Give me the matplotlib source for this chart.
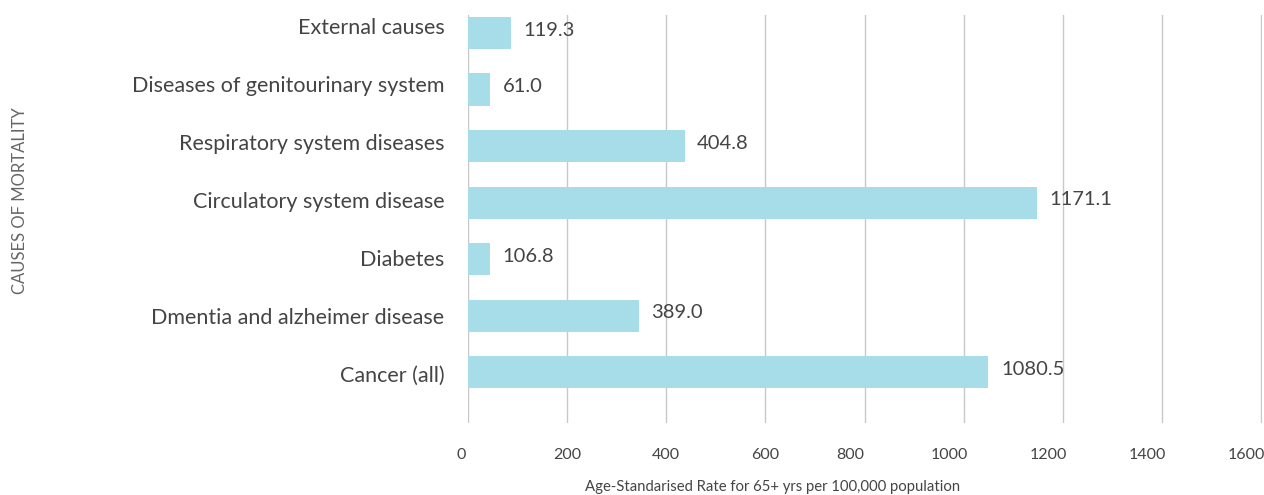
import numpy as np
import matplotlib.pyplot as plt
from matplotlib.transforms import ScaledTranslation

plt.rcParams['font.family'] = ['Lato', 'DejaVu Sans']

# Causes (bottom to top as drawn)
causes = ['Cancer (all)', 'Dmentia and alzheimer disease', 'Diabetes',
          'Circulatory system disease', 'Respiratory system diseases',
          'Diseases of genitourinary system', 'External causes']
# bar lengths as drawn in the picture
bar_values = [1050, 345, 45, 1148, 437, 45, 87]
# printed data labels
label_values = [1080.5, 389.0, 106.8, 1171.1, 404.8, 61.0, 119.3]

bar_color = '#a6dde9'
text_color = '#444444'

fig = plt.figure(figsize=(12.64, 4.95), dpi=100)
ax = fig.add_axes([468 / 1264, 1 - 423 / 495, 794 / 1264, 408 / 495])

y = np.arange(len(causes))
ax.barh(y, bar_values, height=0.57, color=bar_color, zorder=2)

for yi, v, lab in zip(y, bar_values, label_values):
    ax.annotate(f'{lab:.1f}', (v, yi), xytext=(9, 2), textcoords='offset points',
                va='center', ha='left', fontsize=14.5, color=text_color, zorder=3)

ax.set_xlim(0, 1602)
ax.set_ylim(-0.9, 6.32)
ax.set_xticks(np.arange(0, 1601, 200))
ax.set_yticks(y)
ax.set_yticklabels(causes, fontsize=15.5, color=text_color)
ax.tick_params(axis='x', length=0, pad=18, labelsize=11.5, labelcolor=text_color)
ax.tick_params(axis='y', length=0, pad=17)
ax.grid(axis='x', color='#c8c8c8', linewidth=1, zorder=0)
for s in ax.spines.values():
    s.set_visible(False)

# category labels drift slightly upward relative to the bars in the original
for i, t in enumerate(ax.get_yticklabels()):
    t.set_transform(t.get_transform() + ScaledTranslation(0, (i * 1.5 - 2) / 100, fig.dpi_scale_trans))

# the tick labels sit a little left of their gridlines in the original
for t, tick in zip(ax.get_xticklabels(), ax.get_xticks()):
    shift = -0.04 if tick == 0 else (-0.09 if tick >= 800 else 0)
    t.set_transform(t.get_transform() + ScaledTranslation(shift * 1.6, 0, fig.dpi_scale_trans))

fig.text(773 / 1264, 1 - 487 / 495, 'Age-Standarised Rate for 65+ yrs per 100,000 population',
         ha='center', va='center', fontsize=10.7, color=text_color)
fig.text(20 / 1264, 1 - 201 / 495, 'CAUSES OF MORTALITY', rotation=90,
         ha='center', va='center', fontsize=12, color='#666666')

fig.savefig('out.png', dpi=100)
